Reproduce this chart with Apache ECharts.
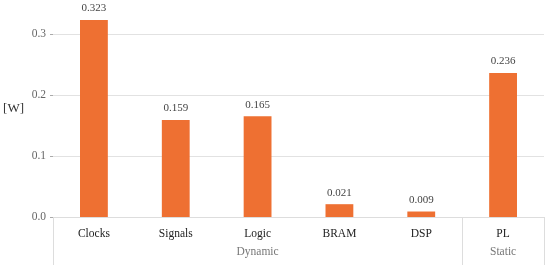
<!DOCTYPE html>
<html><head><meta charset="utf-8">
<script src="https://cdn.jsdelivr.net/npm/echarts@6/dist/echarts.min.js"></script>
<style>html,body{margin:0;padding:0;background:#fff}#c{width:550px;height:270px}</style>
</head><body><div id="c"></div>
<script>
var categories = ['Clocks','Signals','Logic','BRAM','DSP','PL'];
var groupLabels = ['','','Dynamic','','','Static'];
var groupStarts = [0,5];
var values = [0.323,0.159,0.165,0.021,0.009,0.236];
var yTicks = [0,0.1,0.2,0.3];
var FONT = "'Liberation Serif', 'Times New Roman', serif";
var chart = echarts.init(document.getElementById('c'));
chart.setOption({
  animation:false,
  grid:{left:53,right:6,top:34,bottom:53,containLabel:false,outerBoundsMode:'none'},
  xAxis:[{
    type:'category', data:categories, position:'bottom',
    axisLine:{show:true,lineStyle:{color:'#dddddd'}},
    axisTick:{show:false},
    axisLabel:{margin:11,fontFamily:FONT,fontSize:11.5,color:'#222'}
  },{
    type:'category', data:groupLabels, position:'bottom', offset:0,
    axisLine:{show:false},
    axisTick:{show:true,length:48,inside:false,lineStyle:{color:'#dddddd'},
      interval:function(i){return groupStarts.indexOf(i)>=0;}},
    axisLabel:{margin:29,interval:0,fontFamily:FONT,fontSize:11.5,color:'#777'}
  }],
  yAxis:{
    type:'value', min:0, max:0.3, interval:0.1,
    axisLine:{show:false},
    axisTick:{show:true,length:3,lineStyle:{color:'#aaaaaa'}},
    axisLabel:{margin:7,fontFamily:FONT,fontSize:11.5,color:'#666',formatter:function(v){return v.toFixed(1);}},
    splitLine:{lineStyle:{color:'#e2e2e2'}},
    name:'[W]', nameLocation:'middle', nameRotate:0, nameGap:29,
    nameTextStyle:{fontFamily:FONT,fontSize:13,color:'#333',verticalAlign:'bottom',padding:[0,0,10,0]}
  },
  series:[{
    type:'bar', data:values, barWidth:'34%', clip:false,
    itemStyle:{color:'#EE7032'},
    label:{show:true,position:'top',distance:6,fontFamily:FONT,fontSize:11,color:'#444',
      formatter:function(p){return p.value.toFixed(3);}}
  }]
});
</script></body></html>
